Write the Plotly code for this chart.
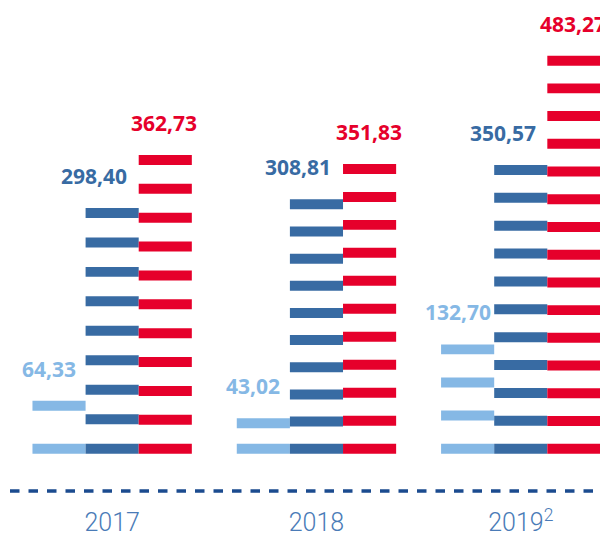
import plotly.graph_objects as go

# ---- data ----
years = ["2017", "2018", "2019<sup>2</sup>"]
light_values = [64.33, 43.02, 132.70]
dark_values = [298.40, 308.81, 350.57]
red_values = [362.73, 351.83, 483.27]

# ---- style ----
COLORS = {"light": "#85b8e5", "dark": "#386ba3", "red": "#e6002b"}
DASH_COUNT = {"light": [2, 2, 4], "dark": [9, 10, 11], "red": [11, 11, 15]}
DASH_THICK = 12.1          # thickness of each stripe, data units
BAR_W = 0.26               # bar width in category units
OFFSETS = {"light": -BAR_W, "dark": 0.0, "red": BAR_W}
LABEL_XSHIFT = {"light": -10, "dark": -18, "red": -1}

series = {"light": light_values, "dark": dark_values, "red": red_values}

fig = go.Figure()
for key, vals in series.items():
    xs, ys, bases = [], [], []
    for gi, v in enumerate(vals):
        n = DASH_COUNT[key][gi]
        step = (v - DASH_THICK) / (n - 1)
        for i in range(n):
            top = v - i * step
            xs.append(gi + OFFSETS[key])
            ys.append(DASH_THICK)
            bases.append(top - DASH_THICK)
    fig.add_trace(go.Bar(x=xs, y=ys, base=bases, width=BAR_W,
                         marker=dict(color=COLORS[key], line=dict(width=0)),
                         hoverinfo="skip", showlegend=False))
    for gi, v in enumerate(vals):
        fig.add_annotation(x=gi + OFFSETS[key], y=v, text=f"{v:.2f}".replace(".", ","),
                           showarrow=False, xshift=LABEL_XSHIFT[key], yshift=32,
                           yanchor="middle", xanchor="center",
                           font=dict(family="Open Sans", size=21, color=COLORS[key], weight=700))

fig.add_shape(type="line", xref="paper", yref="paper", x0=0, x1=1, y0=0, y1=0,
              line=dict(color="#1b4b8f", width=3.5, dash="9.5px,9px"))

fig.update_layout(
    width=600, height=529,
    margin=dict(l=2, r=0, t=12, b=44),
    paper_bgcolor="white", plot_bgcolor="white",
    barmode="overlay",
    xaxis=dict(range=[-0.5, 2.427], tickvals=[0, 1, 2], ticktext=years,
               showgrid=False, zeroline=False, showline=False, ticks="",
               ticklabelstandoff=14,
               tickfont=dict(family="Roboto", size=25, color="#4a7bb7", weight=300)),
    yaxis=dict(range=[-45.3, 526.6], visible=False, showgrid=False, zeroline=False),
)

fig.write_html("out.html")
